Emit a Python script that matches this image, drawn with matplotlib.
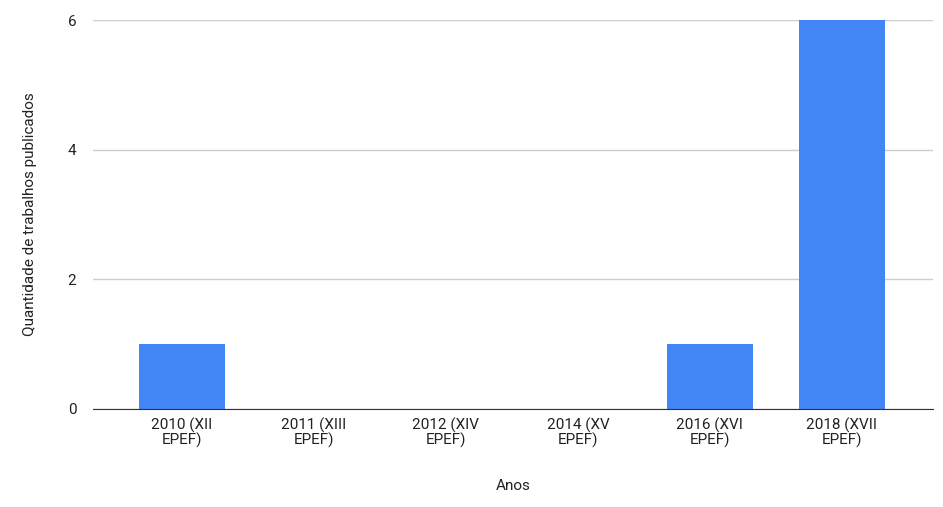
import matplotlib
matplotlib.use("Agg")
import matplotlib.pyplot as plt

categories = ["2010 (XII\nEPEF)", "2011 (XIII\nEPEF)", "2012 (XIV\nEPEF)",
              "2014 (XV\nEPEF)", "2016 (XVI\nEPEF)", "2018 (XVII\nEPEF)"]
values = [1, 0, 0, 0, 1, 6]

plt.rcParams['font.family'] = ['Roboto', 'DejaVu Sans']

fig = plt.figure(figsize=(9.43, 5.07), dpi=100)
ax = fig.add_axes([93/943, 1-409/507, 840/943, 389/507])

x = range(len(categories))
ax.bar(x, values, width=0.65, color="#4285f4", zorder=3)

ax.set_xlim(-0.674, 5.69)
ax.set_ylim(0, 6)
ax.set_yticks([0, 2, 4, 6])
ax.set_xticks(list(x))
ax.set_xticklabels(categories, fontsize=11, color="#222222", linespacing=1.0)
ax.tick_params(axis='y', labelsize=11, colors="#222222", length=0, pad=12)
ax.tick_params(axis='x', length=0, pad=6)
ax.grid(axis='y', color="#cccccc", linewidth=1, zorder=0)
for s in ['top', 'right', 'left']:
    ax.spines[s].set_visible(False)
ax.spines['bottom'].set_color("#333333")
ax.spines['bottom'].set_zorder(4)

ax.set_xlabel("Anos", fontsize=11, color="#222222", labelpad=22)
ax.set_ylabel("Quantidade de trabalhos publicados", fontsize=11, color="#222222", labelpad=22)

fig.savefig("out.png", dpi=100)
